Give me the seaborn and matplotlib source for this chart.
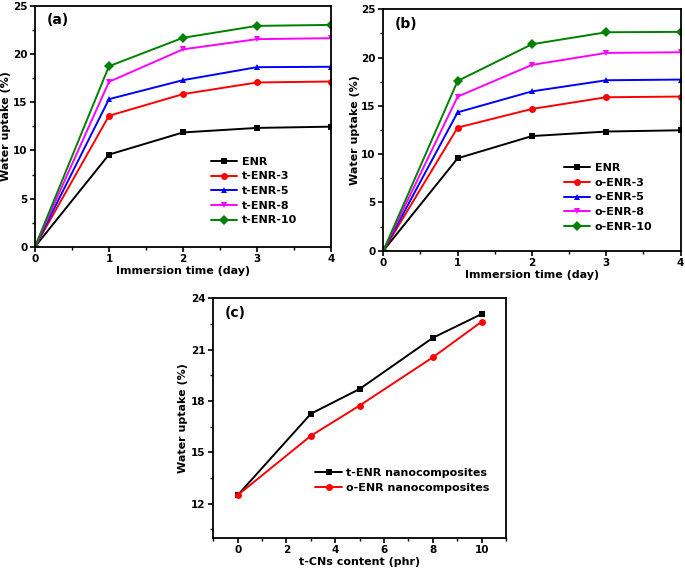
import seaborn as sns
import matplotlib.pyplot as plt
import pandas as pd
from matplotlib.ticker import MultipleLocator

days = [0, 1, 2, 3, 4]
enr = [0, 9.57, 11.87, 12.34, 12.47]
t_enr3 = [0, 13.6, 15.85, 17.06, 17.16]
t_enr5 = [0, 15.33, 17.3, 18.65, 18.69]
t_enr8 = [0, 17.13, 20.5, 21.56, 21.66]
t_enr10 = [0, 18.75, 21.7, 22.94, 23.04]
o_enr3 = [0, 12.75, 14.68, 15.89, 15.96]
o_enr5 = [0, 14.33, 16.5, 17.65, 17.72]
o_enr8 = [0, 15.96, 19.24, 20.48, 20.55]
o_enr10 = [0, 17.58, 21.38, 22.62, 22.66]

content = [0, 3, 5, 8, 10]
t_content = [12.49, 17.25, 18.7, 21.69, 23.08]
o_content = [12.49, 15.96, 17.73, 20.55, 22.63]

colors = ['black', 'red', 'blue', 'magenta', '#008000']
marks = ['s', 'o', '^', 'v', 'D']

sns.set_style('ticks')
plt.rcParams['font.family'] = ['DejaVu Sans']
plt.rcParams['font.weight'] = 'bold'
plt.rcParams['axes.labelweight'] = 'bold'
for key in ['text.color', 'axes.labelcolor', 'xtick.color', 'ytick.color', 'axes.edgecolor']:
    plt.rcParams[key] = 'black'

fig = plt.figure(figsize=(6.85, 5.69), dpi=100)
ax_a = fig.add_axes([0.0511, 0.5664, 0.432, 0.423])
ax_b = fig.add_axes([0.5596, 0.5594, 0.434, 0.4243])
ax_c = fig.add_axes([0.3114, 0.055, 0.4273, 0.4207])


def style_axes(ax):
    for s in ax.spines.values():
        s.set_linewidth(1.3)
        s.set_visible(True)
    ax.tick_params(which='major', direction='out', length=3.5, width=1.2, labelsize=7.5, pad=2)
    ax.tick_params(which='minor', direction='out', length=2, width=1.0)
    for lab in ax.get_xticklabels() + ax.get_yticklabels():
        lab.set_fontweight('bold')


def kinetic_panel(ax, names, series, tag, anchor):
    df = pd.DataFrame({
        'day': days * len(names),
        'uptake': sum(series, []),
        'sample': [n for n in names for _ in days],
    })
    sns.lineplot(data=df, x='day', y='uptake', hue='sample', style='sample',
                 palette=dict(zip(names, colors)), markers=dict(zip(names, marks)),
                 dashes=False, markersize=5, linewidth=1.4, markeredgewidth=0,
                 ax=ax)
    ax.set_xlim(0, 4)
    ax.set_ylim(0, 25)
    ax.xaxis.set_major_locator(MultipleLocator(1))
    ax.xaxis.set_minor_locator(MultipleLocator(0.5))
    ax.yaxis.set_major_locator(MultipleLocator(5))
    ax.yaxis.set_minor_locator(MultipleLocator(2.5))
    ax.set_xlabel('Immersion time (day)', fontsize=8, fontweight='bold', labelpad=1)
    ax.set_ylabel('Water uptake (%)', fontsize=8, fontweight='bold', labelpad=1)
    ax.text(0.04, 0.97, tag, transform=ax.transAxes, fontsize=10, fontweight='bold', va='top')
    ax.legend(loc='lower right', bbox_to_anchor=anchor, frameon=False,
              prop={'weight': 'bold', 'size': 8}, handlelength=2.4,
              labelspacing=0.42, handletextpad=0.4, borderaxespad=0)
    style_axes(ax)


kinetic_panel(ax_a, ['ENR', 't-ENR-3', 't-ENR-5', 't-ENR-8', 't-ENR-10'],
              [enr, t_enr3, t_enr5, t_enr8, t_enr10], '(a)', (0.90, 0.07))
kinetic_panel(ax_b, ['ENR', 'o-ENR-3', 'o-ENR-5', 'o-ENR-8', 'o-ENR-10'],
              [enr, o_enr3, o_enr5, o_enr8, o_enr10], '(b)', (0.92, 0.06))

# panel c: uptake at day 4 vs filler content
df_c = pd.DataFrame({
    'content': content * 2,
    'uptake': t_content + o_content,
    'sample': ['t-ENR nanocomposites'] * 5 + ['o-ENR nanocomposites'] * 5,
})
sns.lineplot(data=df_c, x='content', y='uptake', hue='sample', style='sample',
             palette=['black', 'red'], markers=['s', 'o'], dashes=False,
             markersize=5, linewidth=1.4, markeredgewidth=0, ax=ax_c)
ax_c.set_xlim(-1, 11)
ax_c.set_ylim(10, 24)
ax_c.xaxis.set_major_locator(MultipleLocator(2))
ax_c.xaxis.set_minor_locator(MultipleLocator(1))
ax_c.yaxis.set_major_locator(MultipleLocator(3))
ax_c.yaxis.set_minor_locator(MultipleLocator(1.5))
ax_c.set_yticks([12, 15, 18, 21, 24])
ax_c.set_xlabel('t-CNs content (phr)', fontsize=8, fontweight='bold', labelpad=1)
ax_c.set_ylabel('Water uptake (%)', fontsize=8, fontweight='bold', labelpad=2)
ax_c.text(0.04, 0.97, '(c)', transform=ax_c.transAxes, fontsize=10, fontweight='bold', va='top')
ax_c.legend(loc='lower right', bbox_to_anchor=(0.96, 0.17), frameon=False,
            prop={'weight': 'bold', 'size': 8}, handlelength=2.4,
            labelspacing=0.42, handletextpad=0.4, borderaxespad=0)
style_axes(ax_c)

fig.savefig('out.png', dpi=100)
